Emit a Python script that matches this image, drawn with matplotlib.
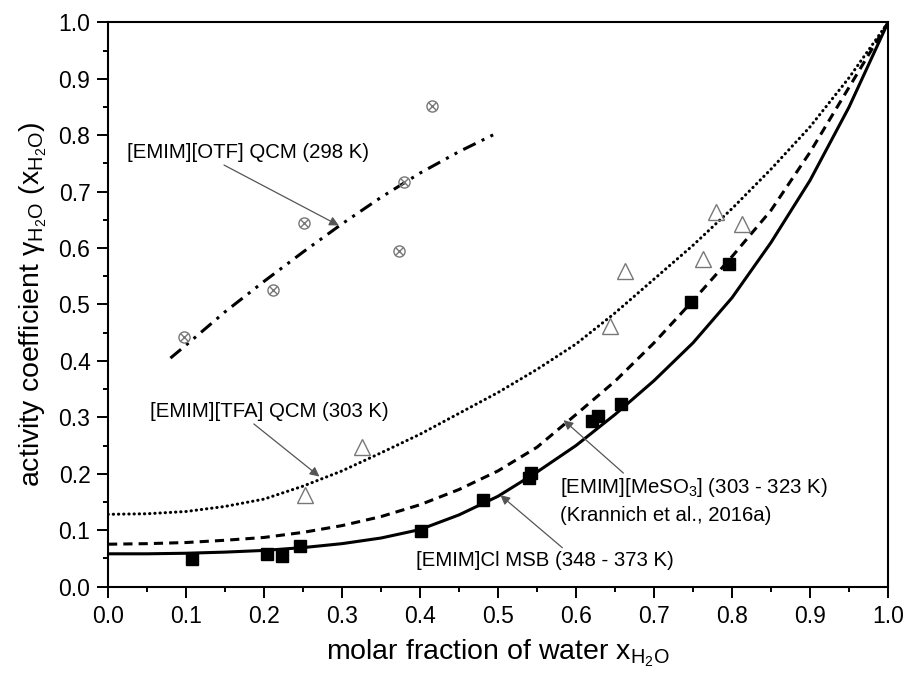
import matplotlib
matplotlib.use("Agg")
import matplotlib.pyplot as plt
from matplotlib.ticker import MultipleLocator

plt.rcParams['font.family'] = ['Liberation Sans', 'DejaVu Sans']
plt.rcParams['mathtext.fontset'] = 'custom'
plt.rcParams['mathtext.rm'] = 'Liberation Sans'
plt.rcParams['mathtext.it'] = 'Liberation Sans'

# ---- data: measured points ----
otf_x = [0.098, 0.211, 0.251, 0.373, 0.379, 0.415]
otf_y = [0.442, 0.526, 0.645, 0.595, 0.717, 0.852]

tfa_x = [0.252, 0.325, 0.644, 0.663, 0.763, 0.779, 0.813]
tfa_y = [0.163, 0.247, 0.461, 0.560, 0.581, 0.664, 0.642]

cl_x = [0.107, 0.204, 0.223, 0.246, 0.401, 0.481, 0.540, 0.542, 0.620, 0.628, 0.658, 0.747, 0.796]
cl_y = [0.049, 0.057, 0.054, 0.071, 0.098, 0.154, 0.193, 0.201, 0.293, 0.302, 0.323, 0.504, 0.572]

# ---- data: model curves ----
curve_x = [0.0, 0.05, 0.1, 0.15, 0.2, 0.25, 0.3, 0.35, 0.4, 0.45, 0.5,
           0.55, 0.6, 0.65, 0.7, 0.75, 0.8, 0.85, 0.9, 0.95, 1.0]
cl_curve = [0.058, 0.058, 0.059, 0.061, 0.064, 0.069, 0.076, 0.086, 0.101, 0.127, 0.160,
            0.203, 0.250, 0.305, 0.365, 0.432, 0.512, 0.610, 0.720, 0.850, 1.0]
meso3_curve = [0.075, 0.076, 0.078, 0.082, 0.087, 0.096, 0.108, 0.124, 0.145, 0.172, 0.205,
               0.247, 0.305, 0.364, 0.432, 0.507, 0.585, 0.667, 0.770, 0.885, 1.0]
tfa_curve = [0.128, 0.129, 0.133, 0.142, 0.155, 0.178, 0.205, 0.237, 0.270, 0.307, 0.344,
             0.385, 0.430, 0.485, 0.545, 0.605, 0.670, 0.740, 0.815, 0.902, 1.0]
otf_curve_x = [0.08, 0.1, 0.15, 0.2, 0.25, 0.3, 0.35, 0.4, 0.45, 0.5]
otf_curve_y = [0.405, 0.428, 0.487, 0.541, 0.593, 0.643, 0.690, 0.733, 0.771, 0.805]

xticks = [0.0, 0.1, 0.2, 0.3, 0.4, 0.5, 0.6, 0.7, 0.8, 0.9, 1.0]
yticks = [0.0, 0.1, 0.2, 0.3, 0.4, 0.5, 0.6, 0.7, 0.8, 0.9, 1.0]

fig = plt.figure(figsize=(9.08, 6.79), dpi=100)
ax = fig.add_axes([0.119, 0.1362, 0.859, 0.8307])

lw = 2.2
ax.plot(curve_x, cl_curve, color='black', lw=lw, ls='-')
ax.plot(curve_x, meso3_curve, color='black', lw=lw, ls=(0, (3, 2)))
ax.plot(curve_x, tfa_curve, color='black', lw=lw, ls=(0, (0.1, 1.6)),
        dash_capstyle='round')
ax.plot(otf_curve_x, otf_curve_y, color='black', lw=lw, ls=(0, (4.5, 2.2, 1, 2.2, 1, 2.2)))

grey = '#777777'
ax.plot(otf_x, otf_y, ls='none', marker='o', ms=8, mfc='none', mec=grey, mew=1.0)
ax.plot(otf_x, otf_y, ls='none', marker='x', ms=5.5, mec=grey, mew=1.0)
ax.plot(tfa_x, tfa_y, ls='none', marker='^', ms=11.5, mfc='none', mec=grey, mew=1.0)
ax.plot(cl_x, cl_y, ls='none', marker='s', ms=8, color='black')

ax.set_xlim(0, 1)
ax.set_ylim(0, 1)
ax.set_xticks(xticks)
ax.set_yticks(yticks)
ax.xaxis.set_minor_locator(MultipleLocator(0.05))
ax.yaxis.set_minor_locator(MultipleLocator(0.05))
ax.set_xticklabels([f"{v:.1f}" for v in xticks])
ax.set_yticklabels([f"{v:.1f}" for v in yticks])
ax.tick_params(which='major', direction='out', length=7.7, width=1.4, labelsize=16.5)
ax.tick_params(axis='x', which='major', pad=5.5)
ax.tick_params(axis='y', which='major', pad=5)
ax.tick_params(which='minor', direction='out', length=3.8, width=1.4)
for s in ax.spines.values():
    s.set_linewidth(1.5)

ax.set_xlabel(r'molar fraction of water x$_{\mathregular{H_2O}}$', fontsize=20.5, labelpad=7)
ax.set_ylabel(r'activity coefficient $\gamma_{\mathregular{H_2O}}$ (x$_{\mathregular{H_2O}}$)', fontsize=20.5, labelpad=7)

arrow = dict(arrowstyle='-|>', color='#555555', lw=0.9, mutation_scale=14,
             shrinkA=0, shrinkB=0)
fs = 14.7
ax.annotate('[EMIM][OTF] QCM (298 K)', xy=(0.296, 0.640), xytext=(0.024, 0.769),
            fontsize=fs, va='center', ha='left',
            arrowprops=dict(arrow, relpos=(0.38, 0.0)))
ax.annotate('[EMIM][TFA] QCM (303 K)', xy=(0.271, 0.195), xytext=(0.054, 0.31),
            fontsize=fs, va='center', ha='left',
            arrowprops=dict(arrow, relpos=(0.42, 0.0)))
ax.annotate('[EMIM][MeSO$_3$] (303 - 323 K)\n(Krannich et al., 2016a)',
            xy=(0.584, 0.295), xytext=(0.579, 0.153),
            fontsize=fs, va='center', ha='left', linespacing=1.45,
            arrowprops=dict(arrow, relpos=(0.25, 1.0)))
ax.annotate('[EMIM]Cl MSB (348 - 373 K)', xy=(0.503, 0.162), xytext=(0.395, 0.047),
            fontsize=fs, va='center', ha='left',
            arrowprops=dict(arrow, relpos=(0.58, 1.0)))

fig.savefig('out.png', dpi=100)
